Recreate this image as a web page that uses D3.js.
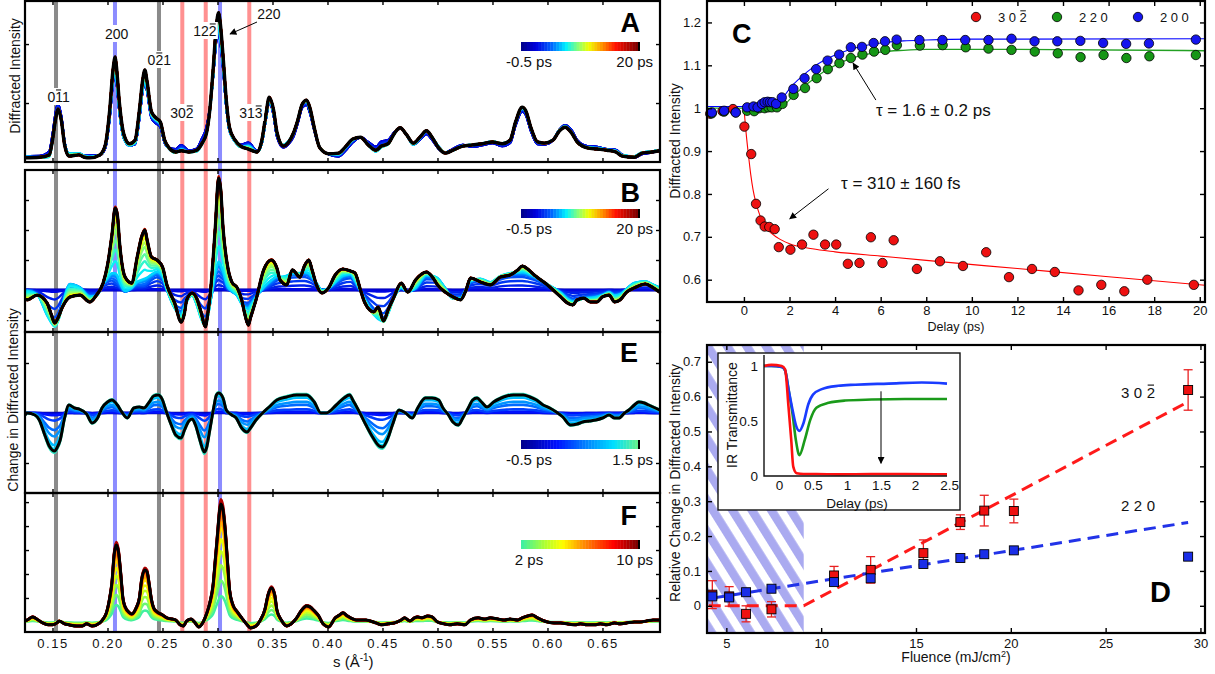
<!DOCTYPE html>
<html>
<head>
<meta charset="utf-8">
<script src="https://cdn.jsdelivr.net/npm/d3@7/dist/d3.min.js"></script>
<style>
  body { margin: 0; background: #fff; }
  svg { display: block; font-family: "Liberation Sans", Arial, Helvetica, sans-serif; }
  .ax line { stroke: #000; stroke-width: 1.4px; }
  .ax .domain { display: none; }
  .ax text { font-size: 13px; fill: #111; font-family: "Liberation Sans", Arial, Helvetica, sans-serif; }
</style>
</head>
<body>
<svg id="chart" width="1215" height="674"></svg>
<script>
// ---------------- data: left stack (s in 1/A) ----------------
// peak positions marked by vertical bands
var bandGray = [0.1532, 0.2468];
var bandBlue = [0.2068, 0.3023];
var bandRed = [0.2680, 0.2893, 0.3289];

// panel A, final (20 ps) diffraction profile [s, intensity]
var profileA = [[0.125,0.07],[0.138,0.08],[0.147,0.12],[0.150,0.37],[0.153,0.75],[0.155,0.90],[0.158,0.71],[0.161,0.29],[0.165,0.10],[0.174,0.12],[0.179,0.08],[0.184,0.07],[0.193,0.12],[0.198,0.29],[0.202,0.88],[0.205,1.56],[0.207,1.78],[0.208,1.64],[0.211,0.97],[0.215,0.46],[0.220,0.31],[0.225,0.37],[0.229,0.88],[0.232,1.39],[0.234,1.56],[0.236,1.36],[0.240,0.85],[0.244,0.75],[0.248,0.68],[0.252,0.37],[0.256,0.24],[0.262,0.17],[0.267,0.19],[0.274,0.17],[0.281,0.20],[0.286,0.32],[0.290,0.49],[0.293,0.88],[0.296,1.56],[0.299,2.32],[0.301,2.53],[0.302,2.44],[0.305,1.81],[0.308,1.05],[0.311,0.58],[0.316,0.37],[0.321,0.27],[0.328,0.22],[0.336,0.17],[0.340,0.34],[0.344,0.80],[0.347,1.10],[0.351,0.88],[0.354,0.51],[0.360,0.27],[0.364,0.32],[0.369,0.49],[0.373,0.71],[0.377,0.98],[0.381,1.05],[0.384,0.92],[0.388,0.58],[0.393,0.24],[0.401,0.14],[0.410,0.15],[0.416,0.25],[0.423,0.39],[0.430,0.42],[0.437,0.29],[0.444,0.20],[0.449,0.27],[0.455,0.31],[0.461,0.49],[0.466,0.58],[0.472,0.46],[0.478,0.32],[0.484,0.42],[0.490,0.53],[0.495,0.42],[0.501,0.24],[0.507,0.15],[0.514,0.20],[0.523,0.27],[0.532,0.29],[0.541,0.31],[0.550,0.34],[0.559,0.31],[0.566,0.37],[0.571,0.68],[0.577,0.93],[0.580,0.88],[0.585,0.58],[0.591,0.34],[0.597,0.32],[0.605,0.37],[0.611,0.53],[0.616,0.59],[0.622,0.49],[0.627,0.34],[0.636,0.24],[0.645,0.22],[0.654,0.20],[0.662,0.17],[0.668,0.10],[0.679,0.08],[0.686,0.15],[0.695,0.17],[0.702,0.19]];

// panel B, change at 20 ps
var profileB = [[0.125,-0.30],[0.127,-0.33],[0.136,-0.17],[0.145,-0.43],[0.149,-0.83],[0.152,-1.10],[0.155,-0.93],[0.159,-0.57],[0.166,-0.23],[0.175,-0.17],[0.184,-0.40],[0.190,-0.17],[0.196,0.23],[0.200,0.83],[0.204,1.83],[0.207,2.73],[0.209,2.50],[0.211,1.57],[0.216,0.43],[0.222,0.23],[0.227,1.10],[0.231,1.77],[0.234,2.00],[0.236,1.67],[0.240,1.10],[0.245,1.00],[0.250,0.77],[0.254,0.17],[0.261,-0.43],[0.267,-1.07],[0.270,-0.77],[0.272,-0.33],[0.277,-0.10],[0.281,-0.27],[0.285,-0.73],[0.289,-1.23],[0.291,-0.83],[0.294,0.10],[0.298,2.10],[0.301,3.73],[0.303,3.33],[0.305,2.10],[0.309,0.83],[0.313,0.27],[0.318,0.07],[0.322,-0.33],[0.325,-0.83],[0.328,-1.17],[0.330,-0.93],[0.335,-0.33],[0.342,0.67],[0.349,1.00],[0.354,0.73],[0.357,0.33],[0.363,0.17],[0.368,0.67],[0.375,0.43],[0.379,0.80],[0.383,1.00],[0.386,0.67],[0.390,0.17],[0.395,-0.10],[0.401,0.07],[0.407,0.50],[0.414,0.70],[0.421,0.63],[0.425,0.57],[0.430,0.00],[0.434,-0.43],[0.442,-0.73],[0.446,-0.57],[0.451,-1.03],[0.455,-0.67],[0.460,-0.27],[0.467,0.23],[0.473,-0.07],[0.480,0.33],[0.490,0.60],[0.496,0.40],[0.500,0.17],[0.507,-0.07],[0.514,-0.23],[0.521,-0.33],[0.526,0.00],[0.530,0.40],[0.539,0.27],[0.548,0.17],[0.557,0.43],[0.566,0.50],[0.573,0.67],[0.577,0.80],[0.583,0.67],[0.588,0.50],[0.600,0.17],[0.612,-0.23],[0.618,-0.43],[0.623,-0.50],[0.627,-0.33],[0.633,-0.27],[0.639,-0.40],[0.645,-0.40],[0.650,-0.23],[0.656,-0.17],[0.661,-0.40],[0.666,-0.33],[0.672,-0.07],[0.679,0.07],[0.689,0.20],[0.695,0.10],[0.702,-0.07]];

// panel E, change at 1.5 ps
var profileE = [[0.125,-0.04],[0.127,0.00],[0.134,-0.04],[0.138,-0.14],[0.143,-0.44],[0.147,-0.66],[0.152,-0.76],[0.154,-0.70],[0.157,-0.54],[0.161,-0.10],[0.165,0.16],[0.170,0.10],[0.174,0.08],[0.181,-0.02],[0.186,-0.20],[0.191,-0.10],[0.195,0.10],[0.200,0.22],[0.204,0.26],[0.209,0.16],[0.213,0.02],[0.218,-0.10],[0.224,0.10],[0.229,0.12],[0.233,0.10],[0.238,0.22],[0.242,0.34],[0.246,0.36],[0.250,0.26],[0.253,0.06],[0.258,-0.24],[0.262,-0.44],[0.267,-0.50],[0.270,-0.34],[0.274,-0.16],[0.277,-0.12],[0.280,-0.24],[0.284,-0.54],[0.288,-0.78],[0.290,-0.70],[0.293,-0.34],[0.297,0.16],[0.299,0.36],[0.301,0.40],[0.305,0.30],[0.308,0.06],[0.313,-0.04],[0.317,-0.10],[0.322,-0.30],[0.327,-0.38],[0.330,-0.30],[0.335,-0.14],[0.341,0.00],[0.347,0.12],[0.354,0.26],[0.363,0.32],[0.372,0.36],[0.381,0.36],[0.388,0.22],[0.394,0.00],[0.399,0.00],[0.408,0.16],[0.415,0.30],[0.420,0.36],[0.424,0.22],[0.429,0.02],[0.435,-0.24],[0.441,-0.48],[0.447,-0.66],[0.450,-0.68],[0.455,-0.50],[0.459,-0.24],[0.465,0.06],[0.471,0.00],[0.477,-0.10],[0.482,0.10],[0.489,0.30],[0.495,0.30],[0.501,0.26],[0.505,0.10],[0.510,-0.04],[0.514,-0.18],[0.519,-0.24],[0.523,-0.10],[0.528,0.10],[0.532,0.26],[0.536,0.30],[0.540,0.22],[0.545,0.12],[0.551,0.22],[0.558,0.30],[0.563,0.34],[0.569,0.36],[0.578,0.36],[0.584,0.32],[0.590,0.26],[0.596,0.16],[0.602,0.10],[0.608,0.02],[0.614,-0.08],[0.621,-0.24],[0.627,-0.22],[0.632,-0.18],[0.638,-0.16],[0.644,-0.14],[0.650,-0.10],[0.656,-0.04],[0.661,-0.10],[0.665,-0.10],[0.670,0.00],[0.674,0.06],[0.679,0.16],[0.683,0.22],[0.688,0.20],[0.692,0.16],[0.702,0.06]];

// panel F, change at 10 ps
var profileF = [[0.125,0.04],[0.127,0.08],[0.132,0.21],[0.137,0.08],[0.141,-0.04],[0.146,-0.12],[0.150,-0.12],[0.154,-0.04],[0.156,0.04],[0.161,-0.08],[0.165,-0.12],[0.172,-0.17],[0.177,-0.17],[0.181,-0.08],[0.186,-0.17],[0.193,-0.04],[0.196,0.12],[0.199,0.38],[0.202,1.00],[0.204,1.63],[0.206,2.79],[0.208,3.21],[0.210,2.92],[0.212,2.04],[0.214,1.00],[0.216,0.63],[0.220,0.38],[0.222,0.33],[0.226,0.58],[0.229,1.00],[0.231,1.75],[0.234,2.17],[0.236,2.08],[0.238,1.54],[0.240,0.92],[0.242,0.58],[0.245,0.42],[0.250,0.29],[0.254,0.17],[0.259,0.12],[0.262,0.08],[0.266,-0.12],[0.269,-0.17],[0.272,0.04],[0.276,0.12],[0.279,0.00],[0.283,-0.21],[0.287,0.00],[0.290,0.33],[0.293,0.79],[0.296,1.54],[0.298,2.58],[0.300,3.63],[0.302,4.67],[0.303,4.92],[0.305,4.67],[0.307,3.83],[0.309,2.58],[0.311,1.33],[0.314,0.71],[0.318,0.42],[0.322,0.17],[0.327,-0.12],[0.330,-0.25],[0.335,-0.17],[0.339,0.08],[0.343,0.50],[0.346,1.13],[0.349,1.42],[0.352,1.13],[0.354,0.50],[0.358,0.08],[0.363,-0.17],[0.367,-0.08],[0.372,0.17],[0.376,0.46],[0.381,0.67],[0.384,0.63],[0.388,0.46],[0.392,0.25],[0.396,-0.08],[0.401,-0.21],[0.407,0.17],[0.411,0.29],[0.414,0.38],[0.418,0.25],[0.421,0.17],[0.426,0.08],[0.430,0.08],[0.435,0.08],[0.439,0.04],[0.444,-0.04],[0.449,-0.12],[0.455,-0.08],[0.461,-0.04],[0.467,0.08],[0.470,0.17],[0.475,0.04],[0.479,0.17],[0.482,0.21],[0.486,0.17],[0.491,0.25],[0.495,0.21],[0.500,0.00],[0.506,-0.08],[0.511,-0.12],[0.518,-0.08],[0.525,-0.12],[0.530,0.08],[0.537,0.17],[0.543,0.12],[0.548,0.17],[0.555,0.12],[0.561,0.08],[0.566,0.12],[0.573,0.08],[0.577,0.17],[0.582,0.25],[0.586,0.29],[0.591,0.17],[0.595,0.08],[0.600,0.00],[0.606,-0.04],[0.612,-0.04],[0.618,-0.08],[0.625,-0.12],[0.630,-0.08],[0.636,-0.12],[0.643,-0.12],[0.648,-0.08],[0.654,-0.12],[0.661,-0.04],[0.666,-0.08],[0.672,-0.04],[0.679,0.00],[0.684,0.00],[0.690,0.04],[0.696,0.08],[0.702,0.08]];

// delay families: fraction of fast (302 drop) and slow (200/220 rise) change reached
var delaysAB = [-0.5,-0.35,-0.2,-0.1,0,0.15,0.3,0.5,0.75,1.0,1.25,1.5,2,2.5,3,3.5,4,4.5,5,5.5,6,6.5,7.5,8.5,9.5,10.5,12,13.5,15,16.5,18,20];
var fastAB = [0,0,0.02,0,0.05,0.25,0.5,0.72,0.84,0.9,0.94,0.97,1,1,1,1,1,1,1,1,1,1,1,1,1,1,1,1,1,1,1,1];
var slowAB = [0,0,0,0,0,0,0,0,0.02,0.06,0.09,0.1,0.26,0.42,0.55,0.68,0.77,0.86,0.89,0.95,0.97,1.0,0.98,1.02,0.99,1.01,1.0,0.98,1.02,1.0,0.99,1.0];
var delaysE = [-0.5,-0.3,-0.1,0.1,0.3,0.5,0.7,0.9,1.1,1.3,1.5];
var weightE = [0,0.03,0.02,0.06,0.2,0.45,0.62,0.85,0.95,1.05,1.0];
var delaysF = [2,2.5,3,3.5,4,4.5,5,5.5,6,6.5,7,8,9,10];
var weightF = [0.22,0.35,0.48,0.6,0.7,0.8,0.85,0.9,0.95,0.97,1.02,1.0,1.04,1.0];

// ---------------- data: panel C ----------------
var redDelay = [-1.48,-0.94,-0.48,0.02,0.32,0.53,0.73,0.91,1.11,1.35,1.53,2.04,2.55,3.05,3.56,4.05,4.56,5.07,5.57,6.08,6.57,7.59,8.60,9.61,10.63,11.63,12.64,13.64,14.68,15.68,16.69,17.70,19.74];
var redVal = [0.987,0.993,0.998,0.957,0.893,0.777,0.738,0.724,0.723,0.718,0.676,0.670,0.682,0.705,0.682,0.682,0.637,0.639,0.699,0.639,0.692,0.625,0.643,0.632,0.664,0.606,0.625,0.618,0.575,0.588,0.573,0.600,0.588];
var greenDelay = [-1.41,-0.87,-0.36,0.14,0.45,0.68,0.91,1.07,1.22,1.45,1.69,2.18,2.68,3.19,3.68,4.19,4.69,5.20,5.71,6.20,6.71,7.72,8.72,9.73,10.73,11.74,12.76,13.77,14.77,15.78,16.78,17.79,19.83];
var greenVal = [0.988,0.992,0.990,0.994,0.993,1.000,1.000,1.002,1.002,1.002,1.010,1.031,1.047,1.070,1.091,1.105,1.117,1.125,1.132,1.136,1.147,1.146,1.147,1.142,1.139,1.136,1.132,1.128,1.119,1.124,1.117,1.121,1.124];
var blueDelay = [-1.41,-0.87,-0.36,0.14,0.42,0.60,0.79,0.91,1.04,1.14,1.25,1.41,1.66,2.17,2.66,3.17,3.67,4.18,4.69,5.18,5.69,6.19,6.70,7.70,8.71,9.71,10.73,11.74,12.75,13.75,14.76,15.76,16.77,17.77,19.83];
var blueVal = [0.990,0.994,0.990,1.002,1.004,1.002,1.010,1.014,1.015,1.014,1.014,1.010,1.025,1.045,1.070,1.091,1.111,1.125,1.142,1.143,1.152,1.156,1.160,1.159,1.159,1.159,1.159,1.162,1.156,1.156,1.157,1.152,1.150,1.151,1.160];
// fitted curves
var redFit = [[0,1.0],[0.1,0.94],[0.2,0.89],[0.3,0.845],[0.4,0.81],[0.5,0.785],[0.7,0.75],[1.0,0.72],[1.5,0.697],[2.0,0.684],[3,0.672],[4,0.665],[6,0.655],[8,0.645],[12,0.626],[16,0.607],[20.23,0.587]];
var blueFit = [[-1.62,1.004],[1.6,1.004],[1.7,1.02],[2.0,1.045],[2.5,1.072],[3.0,1.094],[3.5,1.111],[4.0,1.124],[4.5,1.134],[5,1.142],[6,1.152],[7,1.157],[8,1.159],[10,1.161],[20.23,1.162]];
var greenFit = [[-1.62,1.0],[1.6,1.0],[2.0,1.02],[2.5,1.045],[3.0,1.066],[3.5,1.085],[4.0,1.1],[4.5,1.112],[5,1.121],[6,1.131],[7,1.135],[8,1.137],[12,1.137],[20.23,1.134]];

// ---------------- data: panel D ----------------
var fluence = [4.26,5.15,6.04,7.38,10.68,12.61,15.39,17.34,18.60,20.16,29.35];
var change302 = [0.032,0.027,-0.023,-0.010,0.087,0.103,0.151,0.240,0.273,0.272,0.619];
var err302 = [0.040,0.028,0.023,0.022,0.026,0.038,0.038,0.021,0.044,0.034,0.058];
var change220 = [0.027,0.024,0.039,0.049,0.068,0.079,0.120,0.137,0.148,0.159,0.141];
var fit302 = [[4.07,0],[9.08,0],[29.35,0.585]];
var fit220 = [[4.26,0.022],[29.35,0.239]];
var thresholdFluence = 9.08;

// inset: IR transmittance vs delay
var irRed = [[-0.22,1.0],[-0.11,1.01],[0.04,1.0],[0.09,0.97],[0.14,0.63],[0.18,0.33],[0.21,0.085],[0.26,0.025],[0.36,0.018],[0.55,0.018],[0.87,0.015],[1.36,0.018],[1.85,0.018],[2.47,0.015]];
var irGreen = [[-0.22,1.0],[-0.11,1.0],[0.04,0.99],[0.09,0.96],[0.14,0.79],[0.20,0.56],[0.25,0.32],[0.30,0.19],[0.38,0.33],[0.46,0.51],[0.55,0.62],[0.73,0.665],[0.97,0.686],[1.36,0.695],[1.85,0.70],[2.47,0.70]];
var irBlue = [[-0.22,1.0],[-0.11,1.0],[0.04,0.99],[0.09,0.96],[0.14,0.79],[0.20,0.60],[0.25,0.46],[0.30,0.41],[0.36,0.48],[0.43,0.65],[0.50,0.74],[0.63,0.79],[0.87,0.82],[1.12,0.83],[1.61,0.84],[2.10,0.85],[2.47,0.84]];

// ---------------- helpers ----------------
var svg = d3.select("#chart");
var defs = svg.append("defs");

function interp(profile, s) {
    var i = d3.bisector(function(d) { return d[0]; }).left(profile, s);
    if (i <= 0) return profile[0][1];
    if (i >= profile.length) return profile[profile.length - 1][1];
    var a = profile[i - 1], b = profile[i];
    return a[1] + (b[1] - a[1]) * (s - a[0]) / (b[0] - a[0]);
}

function scaleFrom(stops, colors) {
    return d3.scaleLinear().domain(stops).range(colors).interpolate(d3.interpolateRgb);
}
var cmapAB = scaleFrom([0, 0.12, 0.25, 0.38, 0.48, 0.58, 0.7, 0.82, 1],
    ["#00008f", "#0000e0", "#0060ff", "#00f0ff", "#80ff80", "#f0ff00", "#ff9000", "#ff1000", "#800000"]);
var cmapE = scaleFrom([0, 0.3, 0.55, 0.8, 1], ["#00008f", "#0010ff", "#0080ff", "#00e0ff", "#60f090"]);
var cmapF = scaleFrom([0, 0.2, 0.35, 0.5, 0.65, 0.8, 1], ["#40f0a0", "#b0ff30", "#ffff00", "#ffa000", "#ff5000", "#ff0000", "#800000"]);

// text with an overbar on one character (Miller indices)
function barText(g, x, y, str, barIdx, size, spacing, anchor) {
    var t = g.append("text").attr("x", x).attr("y", y)
        .attr("font-size", size).attr("text-anchor", anchor || "middle")
        .style("letter-spacing", (spacing || 0) + "px").attr("fill", "#111").text(str);
    if (barIdx != null) {
        var e = t.node().getExtentOfChar(barIdx);
        var w = e.width - (spacing || 0);
        g.append("line").attr("x1", e.x + w * 0.12).attr("x2", e.x + w * 0.88)
            .attr("y1", y - size * 0.86).attr("y2", y - size * 0.86)
            .attr("stroke", "#111").attr("stroke-width", Math.max(1, size * 0.075));
    }
    return t;
}

var arrowDef = defs.append("marker").attr("id", "arrow").attr("viewBox", "0 0 10 10")
    .attr("refX", 9).attr("refY", 5).attr("markerWidth", 9).attr("markerHeight", 7)
    .attr("markerUnits", "userSpaceOnUse").attr("orient", "auto");
arrowDef.append("path").attr("d", "M0,0 L10,5 L0,10 z").attr("fill", "#000");

function arrow(g, x1, y1, x2, y2) {
    g.append("line").attr("x1", x1).attr("y1", y1).attr("x2", x2).attr("y2", y2)
        .attr("stroke", "#000").attr("stroke-width", 1).attr("marker-end", "url(#arrow)");
}

// ---------------- left stack ----------------
var xS = d3.scaleLinear().domain([0.125, 0.7023]).range([25, 660]);
var sTicks = [0.15, 0.20, 0.25, 0.30, 0.35, 0.40, 0.45, 0.50, 0.55, 0.60, 0.65];

var gBands = svg.append("g");
[[bandGray, "#8a8a8a"], [bandBlue, "#8c8cff"], [bandRed, "#ff9090"]].forEach(function(pair) {
    pair[0].forEach(function(s) {
        gBands.append("rect").attr("x", xS(s) - 2).attr("width", 4)
            .attr("y", 1).attr("height", 632).attr("fill", pair[1]);
    });
});

function drawPanel(p, curves, cmap, black, wCol, wBlack) {
    var y = d3.scaleLinear().domain(p.domain).range([p.bottom, p.top]);
    defs.append("clipPath").attr("id", "clip" + p.id).append("rect")
        .attr("x", 25).attr("y", p.top).attr("width", 635).attr("height", p.bottom - p.top);
    var g = svg.append("g").attr("clip-path", "url(#clip" + p.id + ")");
    var line = d3.line()
        .x(function(d) { return xS(d[0]); })
        .y(function(d) { return y(d[1]); })
        .curve(d3.curveMonotoneX);
    curves.forEach(function(c, i) {
        g.append("path").attr("d", line(c)).attr("fill", "none")
            .attr("stroke", cmap(i / (curves.length - 1))).attr("stroke-width", wCol)
            .attr("stroke-linejoin", "round");
    });
    g.append("path").attr("d", line(black)).attr("fill", "none")
        .attr("stroke", "#000").attr("stroke-width", wBlack).attr("stroke-linejoin", "round");

    var ax = svg.append("g").attr("class", "ax");
    var bottomAxis = ax.append("g").attr("transform", "translate(0," + p.bottom + ")")
        .call(d3.axisBottom(xS).tickValues(sTicks).tickSize(-4).tickPadding(7)
            .tickFormat(p.labels ? d3.format(".2f") : ""));
    bottomAxis.selectAll("text").style("letter-spacing", "1.6px");
    ax.append("g").attr("transform", "translate(0," + p.top + ")")
        .call(d3.axisTop(xS).tickValues(sTicks).tickSize(-4).tickFormat(""));
    ax.append("g").attr("transform", "translate(25,0)")
        .call(d3.axisLeft(y).tickValues(p.ticks).tickSize(-4).tickFormat(""));
    ax.append("g").attr("transform", "translate(660,0)")
        .call(d3.axisRight(y).tickValues(p.ticks).tickSize(-4).tickFormat(""));
    svg.append("rect").attr("x", 25).attr("y", p.top).attr("width", 635)
        .attr("height", p.bottom - p.top).attr("fill", "none")
        .attr("stroke", "#000").attr("stroke-width", 2.2);
    return y;
}

function colorbar(yTop, cmap, lo, hi) {
    var x0 = 521, x1 = 640, n = 40, w = (x1 - 2 - x0) / n;
    var g = svg.append("g");
    for (var i = 0; i < n; i++) {
        g.append("rect").attr("x", x0 + i * w).attr("y", yTop).attr("width", w + 0.4)
            .attr("height", 9).attr("fill", cmap(i / (n - 1)));
    }
    g.append("rect").attr("x", x1 - 2).attr("y", yTop).attr("width", 2).attr("height", 9).attr("fill", "#000");
    g.append("text").attr("x", x0 + 8).attr("y", yTop + 25).attr("text-anchor", "middle")
        .attr("font-size", 15).attr("fill", "#111").text(lo);
    g.append("text").attr("x", x1 + 13).attr("y", yTop + 25).attr("text-anchor", "end")
        .attr("font-size", 15).attr("fill", "#111").text(hi);
}

function panelLetter(x, y, letter) {
    svg.append("text").attr("x", x).attr("y", y).attr("text-anchor", "end")
        .attr("font-size", 27).attr("font-weight", "bold").attr("fill", "#000").text(letter);
}

// derived curve families (E profile brought to B units, B change to A units)
var eToB = 50 / 30, bToA = 0.09;
var famB = delaysAB.map(function(t, i) {
    return profileB.map(function(p) {
        var eb = interp(profileE, p[0]) * eToB;
        return [p[0], fastAB[i] * eb + slowAB[i] * (p[1] - eb)];
    });
});
var famA = delaysAB.map(function(t, i) {
    return profileA.map(function(p) {
        var bb = interp(profileB, p[0]), eb = interp(profileE, p[0]) * eToB;
        var bi = fastAB[i] * eb + slowAB[i] * (bb - eb);
        return [p[0], p[1] - bToA * (bb - bi)];
    });
});
var famE = weightE.map(function(w) { return profileE.map(function(p) { return [p[0], w * p[1]]; }); });
var famF = weightF.map(function(w) { return profileF.map(function(p) { return [p[0], w * p[1]]; }); });

drawPanel({id: "A", top: 1, bottom: 162, domain: [0, 2.73], ticks: [1, 2]}, famA, cmapAB, profileA, 2.4, 3.4);
drawPanel({id: "B", top: 170, bottom: 332, domain: [-1.4, 4.0], ticks: [-1, 1, 2, 3]}, famB, cmapAB, profileB, 2.4, 3.2);
drawPanel({id: "E", top: 332, bottom: 493, domain: [-1.6, 1.62], ticks: [-1, 1]}, famE, cmapE, profileE, 2.6, 3.0);
drawPanel({id: "F", top: 493, bottom: 632, domain: [-0.42, 5.38], ticks: [1, 2, 3, 4, 5], labels: true}, famF, cmapF, profileF, 2.6, 3.0);

colorbar(42, cmapAB, "-0.5 ps", "20 ps");
colorbar(209, cmapAB, "-0.5 ps", "20 ps");
colorbar(440, cmapE, "-0.5 ps", "1.5 ps");
colorbar(540, cmapF, "2 ps", "10 ps");
panelLetter(640, 32, "A");
panelLetter(640, 202, "B");
panelLetter(638, 362, "E");
panelLetter(637, 525, "F");

// reflection labels in panel A
var gLab = svg.append("g");
[["011", 0.1555, 102, 1], ["200", 0.2083, 39, null], ["021", 0.2471, 65, 1],
 ["302", 0.2677, 118, 2], ["122", 0.2886, 36, 2], ["313", 0.3304, 118, 2]].forEach(function(l) {
    var grp = gLab.append("g");
    var bg = grp.append("rect").attr("fill", "#fff");
    var t = barText(grp, xS(l[1]), l[2], l[0], l[3], 14, 0, "middle");
    var bb = t.node().getBBox();
    bg.attr("x", bb.x - 1).attr("y", bb.y - 1).attr("width", bb.width + 2).attr("height", bb.height + 1);
});
barText(gLab, xS(0.3468), 19, "220", null, 14, 0, "middle");
arrow(gLab, 257, 22, 230, 34);

svg.append("text").attr("transform", "translate(16,76) rotate(-90)").attr("text-anchor", "middle")
    .attr("dominant-baseline", "middle").attr("font-size", 14).attr("fill", "#111").text("Diffracted Intensity");
svg.append("text").attr("transform", "translate(14,400) rotate(-90)").attr("text-anchor", "middle")
    .attr("dominant-baseline", "middle").attr("font-size", 14).attr("fill", "#111").text("Change in Diffracted Intensity");
var sLab = svg.append("text").attr("x", 333).attr("y", 667).attr("font-size", 15).attr("fill", "#111");
sLab.append("tspan").text("s (\u00C5");
sLab.append("tspan").attr("font-size", 10).attr("dy", -6).text("-1");
sLab.append("tspan").attr("dy", 6).text(")");

// ---------------- panel C ----------------
var xC = d3.scaleLinear().domain([-1.62, 20.23]).range([707, 1205]);
var yC = d3.scaleLinear().domain([0.548, 1.25]).range([302, 1]);
var gC = svg.append("g");
var lineC = d3.line().x(function(d) { return xC(d[0]); }).y(function(d) { return yC(d[1]); }).curve(d3.curveMonotoneX);
gC.append("path").attr("d", lineC(redFit)).attr("fill", "none").attr("stroke", "#ff0000").attr("stroke-width", 1.1);
gC.append("path").attr("d", lineC(greenFit)).attr("fill", "none").attr("stroke", "#22a022").attr("stroke-width", 1.3);
gC.append("path").attr("d", lineC(blueFit)).attr("fill", "none").attr("stroke", "#0000ff").attr("stroke-width", 1.1);

function dots(xs, ys, fill) {
    gC.selectAll(null).data(xs).enter().append("circle")
        .attr("cx", function(d) { return xC(d); })
        .attr("cy", function(d, i) { return yC(ys[i]); })
        .attr("r", 4.7).attr("fill", fill).attr("stroke", "#000").attr("stroke-width", 0.8);
}
dots(redDelay, redVal, "#ee1111");
dots(greenDelay, greenVal, "#169616");
dots(blueDelay, blueVal, "#1515ee");

var axC = svg.append("g").attr("class", "ax");
axC.append("g").attr("transform", "translate(0,302)")
    .call(d3.axisBottom(xC).tickValues(d3.range(0, 21, 2)).tickSize(-5).tickPadding(4));
axC.append("g").attr("transform", "translate(0,1)")
    .call(d3.axisTop(xC).tickValues(d3.range(0, 21, 2)).tickSize(-5).tickFormat(""));
axC.append("g").attr("transform", "translate(707,0)")
    .call(d3.axisLeft(yC).tickValues([0.6, 0.7, 0.8, 0.9, 1.0, 1.1, 1.2]).tickSize(-5).tickPadding(6).tickFormat(d3.format(".1~f")));
axC.append("g").attr("transform", "translate(1205,0)")
    .call(d3.axisRight(yC).tickValues([0.6, 0.7, 0.8, 0.9, 1.0, 1.1, 1.2]).tickSize(-5).tickFormat(""));
svg.append("rect").attr("x", 707).attr("y", 1).attr("width", 498).attr("height", 301)
    .attr("fill", "none").attr("stroke", "#000").attr("stroke-width", 2.2);

svg.append("text").attr("x", 732).attr("y", 43).attr("font-size", 27).attr("font-weight", "bold").text("C");
svg.append("text").attr("transform", "translate(676,141) rotate(-90)").attr("text-anchor", "middle")
    .attr("dominant-baseline", "middle").attr("font-size", 14).attr("fill", "#111").text("Diffracted Intensity");
svg.append("text").attr("x", 956).attr("y", 331).attr("text-anchor", "middle")
    .attr("font-size", 12.5).attr("fill", "#111").text("Delay (ps)");

// legend
var gLeg = svg.append("g");
[["302", 2, "#ee1111", 976], ["220", null, "#169616", 1057], ["200", null, "#1515ee", 1138]].forEach(function(l) {
    gLeg.append("circle").attr("cx", l[3]).attr("cy", 17).attr("r", 4.7)
        .attr("fill", l[2]).attr("stroke", "#000").attr("stroke-width", 0.8);
    barText(gLeg, l[3] + 22, 22, l[0], l[1], 13, 3.5, "start");
});

// tau annotations
svg.append("text").attr("x", xC(5.79)).attr("y", yC(0.982)).attr("font-size", 17).attr("fill", "#111")
    .text("\u03C4 = 1.6 \u00B1 0.2 ps");
arrow(svg, xC(5.79), yC(1.019), xC(4.79), yC(1.105));
svg.append("text").attr("x", xC(4.26)).attr("y", yC(0.811)).attr("font-size", 17).attr("fill", "#111")
    .text("\u03C4 = 310 \u00B1 160 fs");
arrow(svg, xC(3.71), yC(0.812), xC(2.01), yC(0.742));

// ---------------- panel D ----------------
var xD = d3.scaleLinear().domain([3.98, 30.24]).range([707, 1205]);
var yD = d3.scaleLinear().domain([-0.078, 0.748]).range([633, 345]);

var hatch = defs.append("pattern").attr("id", "hatch").attr("patternUnits", "userSpaceOnUse")
    .attr("width", 16.5).attr("height", 16.5).attr("patternTransform", "rotate(-32)");
hatch.append("rect").attr("width", 8.5).attr("height", 16.5).attr("fill", "#aaaaf0");
svg.append("rect").attr("x", xD(3.98)).attr("y", 345).attr("width", xD(thresholdFluence) - xD(3.98))
    .attr("height", 288).attr("fill", "url(#hatch)");

var gD = svg.append("g");
var lineD = d3.line().x(function(d) { return xD(d[0]); }).y(function(d) { return yD(d[1]); });
gD.append("path").attr("d", lineD(fit302)).attr("fill", "none").attr("stroke", "#ff1a1a")
    .attr("stroke-width", 3).attr("stroke-dasharray", "12,7");
gD.append("path").attr("d", lineD(fit220)).attr("fill", "none").attr("stroke", "#2233e8")
    .attr("stroke-width", 3).attr("stroke-dasharray", "12,7");

fluence.forEach(function(f, i) {
    var x = xD(f);
    gD.append("line").attr("x1", x).attr("x2", x).attr("y1", yD(change302[i] - err302[i])).attr("y2", yD(change302[i] + err302[i]))
        .attr("stroke", "#e82020").attr("stroke-width", 1.3);
    [change302[i] - err302[i], change302[i] + err302[i]].forEach(function(v) {
        gD.append("line").attr("x1", x - 4.5).attr("x2", x + 4.5).attr("y1", yD(v)).attr("y2", yD(v))
            .attr("stroke", "#e82020").attr("stroke-width", 1.3);
    });
});
gD.selectAll(null).data(fluence).enter().append("rect")
    .attr("x", function(d) { return xD(d) - 4.5; })
    .attr("y", function(d, i) { return yD(change302[i]) - 4.5; })
    .attr("width", 9).attr("height", 9).attr("fill", "#ee1111").attr("stroke", "#000").attr("stroke-width", 0.9);
gD.selectAll(null).data(fluence).enter().append("rect")
    .attr("x", function(d) { return xD(d) - 4.5; })
    .attr("y", function(d, i) { return yD(change220[i]) - 4.5; })
    .attr("width", 9).attr("height", 9).attr("fill", "#1a2ee8").attr("stroke", "#000").attr("stroke-width", 0.9);

var axD = svg.append("g").attr("class", "ax");
axD.append("g").attr("transform", "translate(0,633)")
    .call(d3.axisBottom(xD).tickValues([5, 10, 15, 20, 25, 30]).tickSize(-5).tickPadding(6));
axD.append("g").attr("transform", "translate(0,345)")
    .call(d3.axisTop(xD).tickValues([5, 10, 15, 20, 25, 30]).tickSize(-5).tickFormat(""));
axD.append("g").attr("transform", "translate(707,0)")
    .call(d3.axisLeft(yD).tickValues([0, 0.1, 0.2, 0.3, 0.4, 0.5, 0.6, 0.7]).tickSize(-5).tickPadding(6).tickFormat(d3.format(".1~f")));
axD.append("g").attr("transform", "translate(1205,0)")
    .call(d3.axisRight(yD).tickValues([0, 0.1, 0.2, 0.3, 0.4, 0.5, 0.6, 0.7]).tickSize(-5).tickFormat(""));
svg.append("rect").attr("x", 707).attr("y", 345).attr("width", 498).attr("height", 288)
    .attr("fill", "none").attr("stroke", "#000").attr("stroke-width", 2.2);

barText(svg, 1121, 398, "302", 2, 15, 4.5, "start");
barText(svg, 1121, 511, "220", null, 15, 4.5, "start");
svg.append("text").attr("x", 1150).attr("y", 602).attr("font-size", 29).attr("font-weight", "bold").text("D");
svg.append("text").attr("transform", "translate(676,483) rotate(-90)").attr("text-anchor", "middle")
    .attr("dominant-baseline", "middle").attr("font-size", 14).attr("fill", "#111")
    .text("Relative Change in Diffracted Intensity");
var fLab = svg.append("text").attr("x", 956).attr("y", 662).attr("text-anchor", "middle")
    .attr("font-size", 14).attr("fill", "#111");
fLab.append("tspan").text("Fluence (mJ/cm");
fLab.append("tspan").attr("font-size", 9).attr("dy", -5).text("2");
fLab.append("tspan").attr("dy", 5).text(")");

// inset
svg.append("rect").attr("x", 718).attr("y", 353).attr("width", 242).attr("height", 157)
    .attr("fill", "#fff").attr("stroke", "#111").attr("stroke-width", 1.4);
var xI = d3.scaleLinear().domain([-0.22, 2.47]).range([764, 947]);
var yI = d3.scaleLinear().domain([0, 1.1]).range([476, 355]);
var lineI = d3.line().x(function(d) { return xI(d[0]); }).y(function(d) { return yI(d[1]); }).curve(d3.curveMonotoneX);
var gI = svg.append("g");
gI.append("path").attr("d", lineI(irGreen)).attr("fill", "none").attr("stroke", "#1a9a1a").attr("stroke-width", 2.6);
gI.append("path").attr("d", lineI(irBlue)).attr("fill", "none").attr("stroke", "#1a3cff").attr("stroke-width", 2.6);
gI.append("path").attr("d", lineI(irRed)).attr("fill", "none").attr("stroke", "#ff1010").attr("stroke-width", 2.6);
var axI = svg.append("g").attr("class", "ax");
axI.append("g").attr("transform", "translate(0,476)")
    .call(d3.axisBottom(xI).tickValues([0, 0.5, 1, 1.5, 2, 2.5]).tickSize(0).tickPadding(4).tickFormat(d3.format("~g")));
axI.append("g").attr("transform", "translate(764,0)")
    .call(d3.axisLeft(yI).tickValues([0, 0.5, 1]).tickSize(0).tickPadding(6).tickFormat(d3.format("~g")));
axI.selectAll("text").style("font-size", "13.5px");
gI.append("path").attr("d", "M" + xI(-0.22) + "," + yI(1.1) + "V" + yI(0) + "H" + xI(2.47))
    .attr("fill", "none").attr("stroke", "#111").attr("stroke-width", 1.4);
arrow(gI, xI(1.5), yI(0.77), xI(1.5), yI(0.115));
svg.append("text").attr("transform", "translate(733,415) rotate(-90)").attr("text-anchor", "middle")
    .attr("dominant-baseline", "middle").attr("font-size", 14).attr("fill", "#111").text("IR Transmittance");
svg.append("text").attr("x", 857).attr("y", 508).attr("text-anchor", "middle")
    .attr("font-size", 13.5).attr("fill", "#111").text("Delay (ps)");
</script>
</body>
</html>
